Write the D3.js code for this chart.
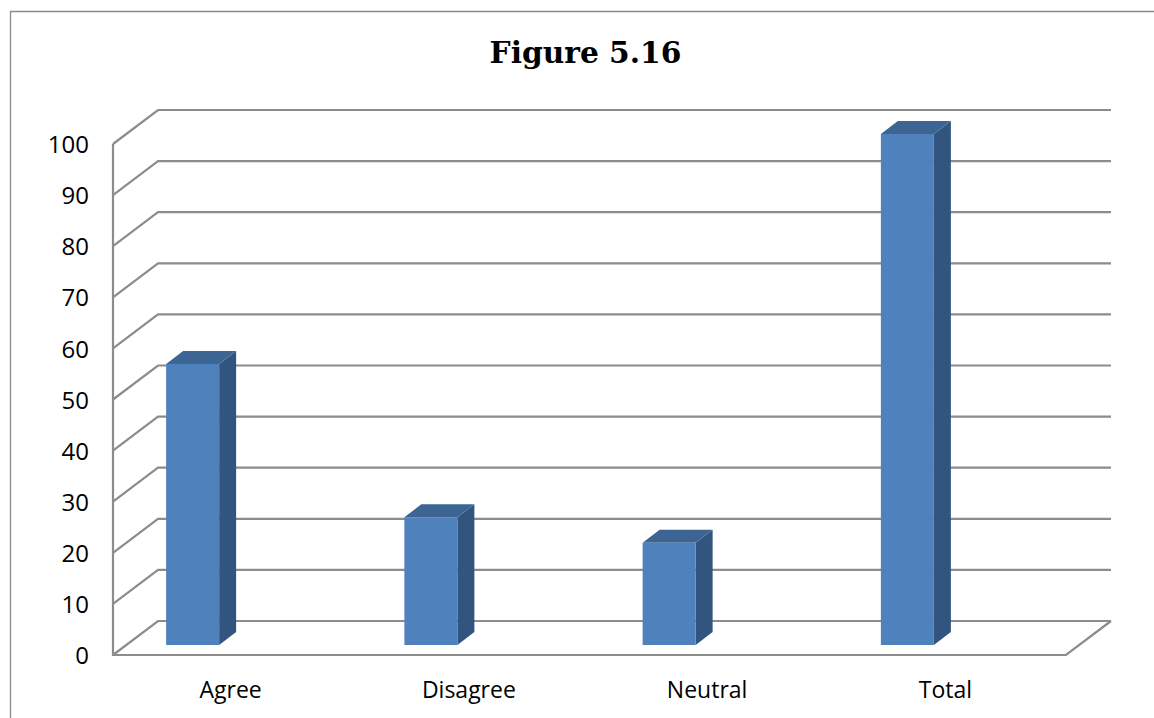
<!DOCTYPE html>
<html>
<head>
<meta charset="utf-8">
<script src="https://cdn.jsdelivr.net/npm/d3@7/dist/d3.min.js"></script>
<style>
html,body{margin:0;padding:0;background:#fff;overflow:hidden}
svg{display:block}
</style>
</head>
<body>
<script>
const categories = ["Agree", "Disagree", "Neutral", "Total"];
const values = [55, 25, 20, 100];
const tickValues = [0, 10, 20, 30, 40, 50, 60, 70, 80, 90, 100];
const titleText = "Figure 5.16";

const W = 1154, H = 718;
const svg = d3.select("body").append("svg").attr("width", W).attr("height", H);

// Front plane of the pseudo-3D box, plus the offset to its back wall
const x = d3.scaleBand().domain(categories).range([113, 1066]);
const y = d3.scaleLinear().domain([0, 100]).range([655, 144]);
const wallDx = 45, wallDy = -34;

// Bars sit part-way into the box and have their own small extrusion
const barW = 53, barDx = -39.5, barDy = -10, sideDx = 17, sideDy = -13;

const gridColor = "#8c8c8c";
const faceColor = "#4f81bd", topColor = "#3d6594", sideColor = "#31557f";

// Chart frame: only the left and top edges fall inside the page
svg.append("path")
  .attr("d", `M10.5,${H}V11.5H${W}`)
  .attr("fill", "none").attr("stroke", "#8a8a8a").attr("stroke-width", 1.3);

svg.append("text")
  .attr("x", 585.5).attr("y", 62.5).attr("text-anchor", "middle")
  .attr("font-family", "'DejaVu Serif'").attr("font-weight", "bold")
  .attr("font-size", 29.7).attr("fill", "#000").text(titleText);

// Gridlines run along the left wall and then across the back wall
svg.append("g").selectAll("path").data(tickValues).join("path")
  .attr("d", d => `M${x.range()[0]},${y(d)}l${wallDx},${wallDy}H${x.range()[1] + wallDx}`)
  .attr("fill", "none").attr("stroke", gridColor).attr("stroke-width", 2.2);

// Front vertical axis and the floor outline
svg.append("path")
  .attr("d", `M${x.range()[0]},${y(100)}V${y(0)}H${x.range()[1]}l${wallDx},${wallDy}`)
  .attr("fill", "none").attr("stroke", gridColor).attr("stroke-width", 2.2);

// Value axis labels
const axisY = d3.axisLeft(y).tickValues(tickValues).tickSize(0).tickPadding(0);
const gy = svg.append("g").attr("transform", "translate(89,0)").call(axisY);
gy.select(".domain").remove();
gy.selectAll("text").attr("font-family", "'Open Sans'").attr("font-size", 24)
  .attr("fill", "#000").attr("dy", "0.36em");

// Category axis labels
const axisX = d3.axisBottom(x).tickSize(0).tickPadding(0);
const gx = svg.append("g").attr("transform", "translate(-1.5,698)").call(axisX);
gx.select(".domain").remove();
gx.selectAll("text").attr("font-family", "'Open Sans'").attr("font-size", 23)
  .attr("fill", "#000").attr("dy", 0);

// Bars: side face, top face, then the front face
const bars = svg.append("g").selectAll("g")
  .data(categories.map((c, i) => ({c, v: values[i]}))).join("g");

const left = d => x(d.c) + x.bandwidth() / 2 + barDx - barW / 2;
const top_ = d => y(d.v) + barDy;
const base = y(0) + barDy;

bars.append("path").attr("fill", sideColor)
  .attr("d", d => `M${left(d) + barW},${top_(d)}l${sideDx},${sideDy}V${base + sideDy}l${-sideDx},${-sideDy}Z`);
bars.append("path").attr("fill", topColor)
  .attr("d", d => `M${left(d)},${top_(d)}l${sideDx},${sideDy}h${barW}l${-sideDx},${-sideDy}Z`);
bars.append("rect").attr("fill", faceColor)
  .attr("x", left).attr("y", top_).attr("width", barW)
  .attr("height", d => base - top_(d));
</script>
</body>
</html>
